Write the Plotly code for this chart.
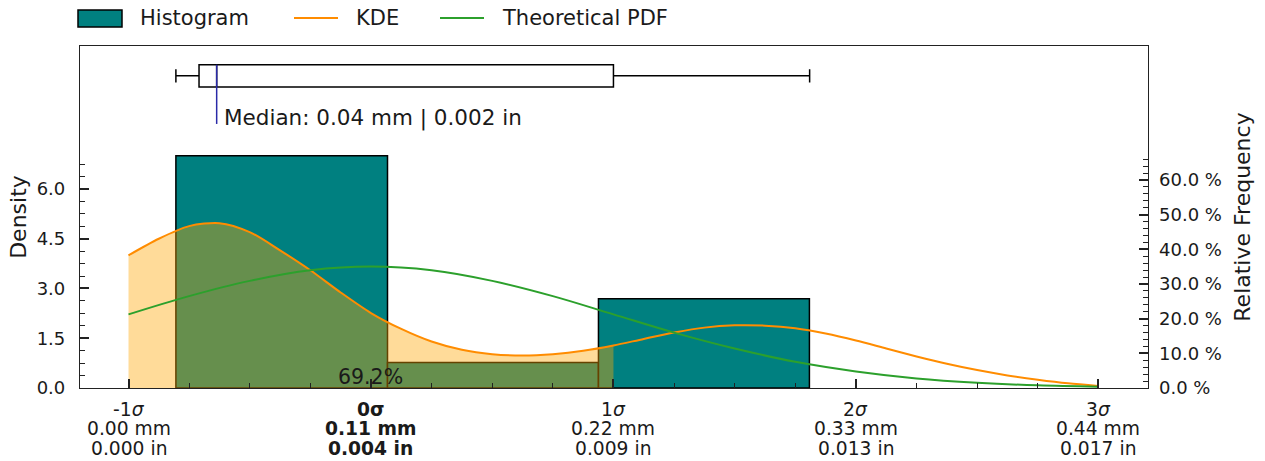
import plotly.graph_objects as go

# ---------------- data ----------------
mean_mm = 0.110
sd_mm = 0.110
sigma_steps = [-1, 0, 1, 2, 3]

bin_edges = [0.0215, 0.1175, 0.2132, 0.3089]
densities = [7.00, 0.77, 2.69]
bin_width = 0.0957

q1_mm = 0.032
median_mm = 0.040
q3_mm = 0.220
whisker_lo = 0.0215
whisker_hi = 0.309

kde_x = [0.0000, 0.01375, 0.0275, 0.04125, 0.0550, 0.06875, 0.0825, 0.09625,
         0.1100, 0.12375, 0.1375, 0.15125, 0.1650, 0.17875, 0.1925, 0.20625,
         0.2200, 0.23375, 0.2475, 0.26125, 0.2750, 0.28875, 0.3025, 0.31625,
         0.3300, 0.34375, 0.3575, 0.37125, 0.3850, 0.39875, 0.4125, 0.42625, 0.4400]
kde_y = [4.00, 4.50, 4.88, 4.97, 4.70, 4.15, 3.55, 2.88,
         2.26, 1.78, 1.40, 1.15, 1.02, 0.98, 1.02, 1.12,
         1.28, 1.48, 1.67, 1.82, 1.89, 1.88, 1.80, 1.64,
         1.43, 1.19, 0.95, 0.73, 0.54, 0.38, 0.25, 0.14, 0.06]

pdf_x = [0.0000, 0.0275, 0.0550, 0.0825, 0.1100, 0.1375, 0.1650, 0.1925, 0.2200,
         0.2475, 0.2750, 0.3025, 0.3300, 0.3575, 0.3850, 0.4125, 0.4400]
pdf_y = [2.22, 2.77, 3.23, 3.55, 3.66, 3.55, 3.23, 2.77, 2.22,
         1.67, 1.19, 0.79, 0.50, 0.29, 0.16, 0.08, 0.04]

within_1sigma_label = "69.2%"

density_ticks = [0.0, 1.5, 3.0, 4.5, 6.0]
relfreq_ticks = [0, 10, 20, 30, 40, 50, 60]

# ---------------- layout constants ----------------
W, H = 1265, 461
ML, MR, MT, MB = 80, 117, 46, 73
x_range = [-0.022, 0.4625]
y_top = 10.31
FONT = "DejaVu Sans"
TXT = "#1a1a1a"
TEAL = "#008080"
ORANGE = "#ff8c00"
GREEN = "#2ca02c"

centers = [(a + b) / 2 for a, b in zip(bin_edges[:-1], bin_edges[1:])]
widths = [b - a for a, b in zip(bin_edges[:-1], bin_edges[1:])]
relfreq = [d * bin_width * 100 for d in densities]

lo1, hi1 = mean_mm - sd_mm, mean_mm + sd_mm
fill_pts = [(x, y) for x, y in zip(kde_x, kde_y) if lo1 - 1e-9 <= x <= hi1 + 1e-9]

fig = go.Figure()

fig.add_trace(go.Bar(
    x=centers, y=densities, width=widths,
    marker=dict(color=TEAL, line=dict(color="black", width=1.5)),
    showlegend=False, name="Histogram"))

fig.add_trace(go.Scatter(
    x=[p[0] for p in fill_pts], y=[p[1] for p in fill_pts],
    mode="lines", line=dict(width=0, shape="spline", smoothing=0.8),
    fill="tozeroy", fillcolor="rgba(255,165,0,0.4)",
    showlegend=False, hoverinfo="skip"))

fig.add_trace(go.Scatter(
    x=kde_x, y=kde_y, mode="lines",
    line=dict(color=ORANGE, width=2, shape="spline", smoothing=0.8),
    showlegend=False, name="KDE"))

fig.add_trace(go.Scatter(
    x=pdf_x, y=pdf_y, mode="lines",
    line=dict(color=GREEN, width=2, shape="spline"),
    showlegend=False, name="Theoretical PDF"))

box_center = 9.41
fig.add_trace(go.Box(
    orientation="h", y=[box_center],
    q1=[q1_mm], median=[median_mm], q3=[q3_mm],
    lowerfence=[whisker_lo], upperfence=[whisker_hi],
    width=0.67, whiskerwidth=0.6, fillcolor="white",
    line=dict(color="black", width=1.5), boxpoints=False,
    showlegend=False, hoverinfo="skip"))

# invisible trace to anchor the relative-frequency axis
fig.add_trace(go.Scatter(
    x=centers, y=relfreq, yaxis="y2", mode="markers",
    marker=dict(opacity=0), showlegend=False, hoverinfo="skip"))

# median marker line and label
fig.add_shape(type="line", x0=median_mm, x1=median_mm, y0=box_center + 0.335, y1=7.96,
              xref="x", yref="y", line=dict(color="#2a2aa8", width=1.5))
fig.add_annotation(x=median_mm, y=8.14, xref="x", yref="y", xanchor="left", yanchor="middle",
                   xshift=5, showarrow=False,
                   text=f"Median: {median_mm:.2f} mm | {median_mm/25.4:.3f} in",
                   font=dict(family=FONT, size=21.5, color=TXT))

fig.add_annotation(x=mean_mm, y=0.33, xref="x", yref="y", xanchor="center", yanchor="middle",
                   showarrow=False, text=within_1sigma_label,
                   font=dict(family=FONT, size=20.5, color=TXT))

# x tick labels (three lines each)
tick_vals = [mean_mm + k * sd_mm for k in sigma_steps]
line_shifts = [-21, -40, -60]
for k, v in zip(sigma_steps, tick_vals):
    lines = [f"{k}<i>σ</i>", f"{abs(v):.2f} mm", f"{abs(v)/25.4:.3f} in"]
    if k == 0:
        lines = [f"<b>{k}σ</b>", f"<b>{v:.2f} mm</b>", f"<b>{v/25.4:.3f} in</b>"]
    for txt, ys in zip(lines, line_shifts):
        fig.add_annotation(x=v, y=0, xref="x", yref="paper", xanchor="center", yanchor="middle",
                           yshift=ys, showarrow=False, text=txt,
                           font=dict(family=FONT, size=18.7, color=TXT))

minor_x = [mean_mm + (q / 4) * sd_mm for q in range(-4, 13) if q % 4 != 0]
minor_y = [0.375 * i for i in range(1, 19) if abs((0.375 * i) / 1.5 - round((0.375 * i) / 1.5)) > 1e-9]
minor_y2 = [2 * i for i in range(1, 34) if (2 * i) % 10 != 0]

# manual legend
pw, ph = W - ML - MR, H - MT - MB
def px(xp):
    return (xp - ML) / pw
def py(yp):
    return (H - MB - yp) / ph

fig.add_shape(type="rect", xref="paper", yref="paper", x0=px(78), x1=px(122), y0=py(27), y1=py(10),
              fillcolor=TEAL, line=dict(color="black", width=1.5))
fig.add_shape(type="line", xref="paper", yref="paper", x0=px(294), x1=px(338), y0=py(18), y1=py(18),
              line=dict(color=ORANGE, width=2))
fig.add_shape(type="line", xref="paper", yref="paper", x0=px(440), x1=px(484), y0=py(18), y1=py(18),
              line=dict(color=GREEN, width=2))
for label, xl in [("Histogram", 138), ("KDE", 354), ("Theoretical PDF", 500)]:
    fig.add_annotation(x=px(xl), y=py(18), xref="paper", yref="paper", xanchor="left", yanchor="middle",
                       showarrow=False, text=label, font=dict(family=FONT, size=21, color=TXT))

fig.update_layout(
    width=W, height=H,
    margin=dict(l=ML, r=MR, t=MT, b=MB, pad=0),
    paper_bgcolor="white", plot_bgcolor="white",
    font=dict(family=FONT, size=18, color=TXT),
    showlegend=False,
    xaxis=dict(range=x_range, tickvals=tick_vals, showticklabels=False,
               ticks="inside", ticklen=9, tickwidth=1.5, tickcolor="#222",
               minor=dict(tickvals=minor_x, ticks="inside", ticklen=5, tickwidth=1.2, tickcolor="#222"),
               showline=True, linecolor="#222", linewidth=1.2, mirror=True,
               showgrid=False, zeroline=False, fixedrange=True),
    yaxis=dict(range=[0, y_top], tickvals=density_ticks,
               ticktext=[f"{t:.1f}" for t in density_ticks],
               ticks="inside", ticklen=9, tickwidth=1.5, tickcolor="#222",
               ticklabelstandoff=10,
               minor=dict(tickvals=minor_y, ticks="inside", ticklen=5, tickwidth=1.2, tickcolor="#222"),
               showline=True, linecolor="#222", linewidth=1.2, mirror=True,
               showgrid=False, zeroline=False,
               title=dict(text="Density", font=dict(size=22, family=FONT, color=TXT), standoff=3)),
    yaxis2=dict(overlaying="y", side="right", range=[0, y_top * bin_width * 100],
                tickvals=relfreq_ticks, ticktext=[f"{t:.1f} %" for t in relfreq_ticks],
                ticks="inside", ticklen=9, tickwidth=1.5, tickcolor="#222",
                ticklabelstandoff=10,
                minor=dict(tickvals=minor_y2, ticks="inside", ticklen=5, tickwidth=1.2, tickcolor="#222"),
                showline=False, showgrid=False, zeroline=False,
                title=dict(text="Relative Frequency", font=dict(size=22, family=FONT, color=TXT), standoff=13)),
)

fig.write_html("out.html", config={"displayModeBar": False},
               post_script="document.body.style.margin='0px';")
